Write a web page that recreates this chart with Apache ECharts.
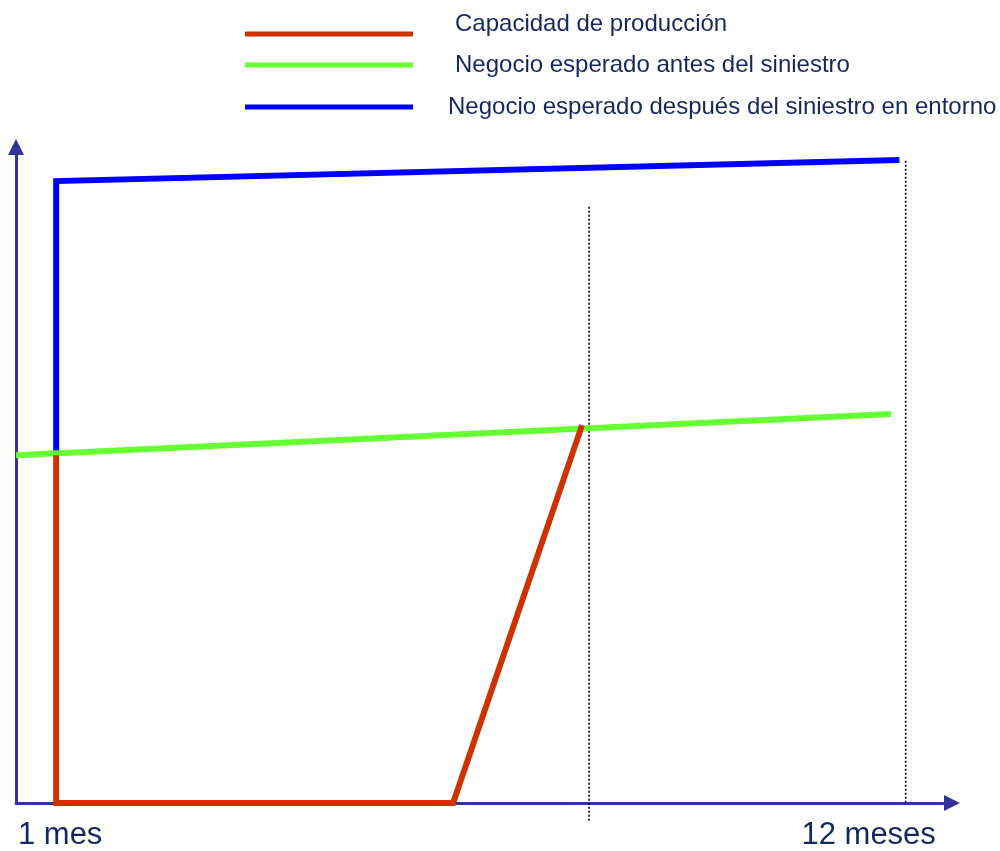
<!DOCTYPE html>
<html>
<head>
<meta charset="utf-8">
<script src="https://cdn.jsdelivr.net/npm/echarts@6/dist/echarts.min.js"></script>
<style>
  html, body { margin: 0; padding: 0; background: #ffffff; }
  #chart { width: 1000px; height: 851px; }
</style>
</head>
<body>
<div id="chart"></div>
<script>
// Time axis in months, business level in relative units (0–100)
const seriesNames = [
  'Capacidad de producción',
  'Negocio esperado antes del siniestro',
  'Negocio esperado después del siniestro en entorno'
];
const tickMonths = [1, 12];
const tickLabels = ['1 mes', '12 meses'];

// [month, level] points of each curve
const capacidadProduccion = [[1, 53.0], [1, 0], [6.14, 0], [7.81, 57.6]];
const negocioAntes = [[0.48, 53.0], [11.81, 59.3]];
const negocioDespues = [[1, 53.0], [1, 94.8], [11.92, 98.0]];

// dotted reference verticals
const refRecuperacion = [[7.9, 90.9], [7.9, -3.0]];
const refDoceMeses = [[12, 97.9], [12, 0]];

const colors = ['#cc3300', '#66ff33', '#0000ff'];
const axisColor = '#333399';
const textColor = '#14275e';
const font = '"Liberation Sans", Arial, sans-serif';

const chart = echarts.init(document.getElementById('chart'), null, { renderer: 'canvas' });

// one legend block per curve, line swatch on the left and label on the right
function legendFor(i, top, padLeft, raised) {
  return {
    data: [seriesNames[i]],
    left: 245,
    top: top,
    padding: 0,
    icon: 'rect',
    itemWidth: 168,
    itemHeight: 5,
    selectedMode: false,
    // the first label sits above its swatch: a blank second line lifts it
    formatter: raised ? (n) => n + '\n ' : (n) => n,
    textStyle: {
      fontFamily: font, fontSize: 24, color: textColor,
      lineHeight: raised ? 19 : 26,
      padding: [0, 0, 0, padLeft]
    }
  };
}

const lineSeries = (name, data, color) => ({
  name: name,
  type: 'line',
  data: data,
  color: color,
  symbol: 'none',
  silent: true,
  clip: false,
  lineStyle: { color: color, width: 6, cap: 'butt', join: 'miter' },
  z: 3
});

const dotted = (data) => ({
  type: 'line',
  data: data,
  symbol: 'none',
  silent: true,
  clip: false,
  lineStyle: { color: '#000000', width: 1.6, type: [2, 2] },
  z: 2
});

chart.setOption({
  animation: false,
  backgroundColor: '#ffffff',
  legend: [
    legendFor(0, 12.5, 37, true),
    legendFor(1, 52, 37, false),
    legendFor(2, 94, 30, false)
  ],
  grid: { left: 16, right: 48, top: 147, bottom: 46, containLabel: false },
  xAxis: {
    type: 'value',
    min: 0.48,
    max: 12.6,
    axisLine: {
      onZero: true,
      lineStyle: { color: axisColor, width: 3 },
      symbol: ['none', 'triangle'],
      symbolSize: [16, 16]
    },
    axisTick: { show: false },
    splitLine: { show: false },
    axisLabel: {
      customValues: tickMonths,
      margin: 17,
      formatter: (v) => {
        const i = tickMonths.indexOf(v);
        return i === 0 ? '{a|' + tickLabels[0] + '}' : '{b|' + tickLabels[1] + '}';
      },
      rich: {
        a: { fontFamily: font, fontSize: 31, color: textColor, padding: [0, 0, 0, 8] },
        b: { fontFamily: font, fontSize: 31, color: textColor, padding: [0, 74, 0, 0] }
      }
    }
  },
  yAxis: {
    type: 'value',
    min: 0,
    max: 100,
    axisLine: {
      show: true,
      onZero: false,
      lineStyle: { color: axisColor, width: 3 },
      symbol: ['none', 'triangle'],
      symbolSize: [16, 16]
    },
    axisTick: { show: false },
    axisLabel: { show: false },
    splitLine: { show: false }
  },
  series: [
    dotted(refRecuperacion),
    dotted(refDoceMeses),
    lineSeries(seriesNames[2], negocioDespues, colors[2]),
    lineSeries(seriesNames[1], negocioAntes, colors[1]),
    lineSeries(seriesNames[0], capacidadProduccion, colors[0])
  ]
});
</script>
</body>
</html>
